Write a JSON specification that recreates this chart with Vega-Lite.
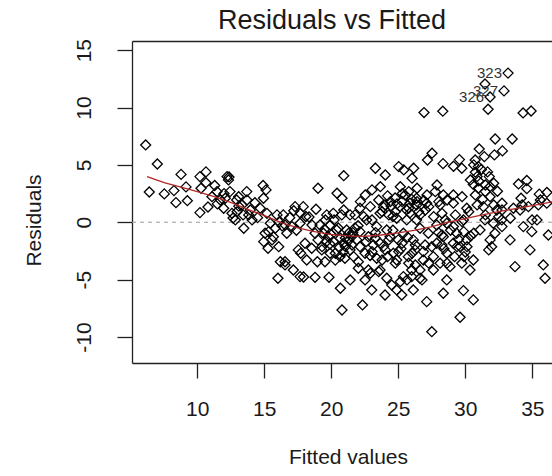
{
  "$schema": "https://vega.github.io/schema/vega-lite/v6.json",
  "width": 420,
  "height": 322,
  "autosize": {"type": "none"},
  "padding": {"left": 132, "top": 41, "right": 0, "bottom": 113},
  "background": "white",
  "config": {"view": {"stroke": null}, "font": "Liberation Sans"},
  "title": {"text": "Residuals vs Fitted", "fontSize": 27, "fontWeight": "normal", "font": "Liberation Sans", "color": "#1a1a1a", "anchor": "middle", "frame": "group", "dx": -10, "offset": 3},
  "datasets": {
    "pts": [
      {"x":6.15,"y":6.74},{"x":7.02,"y":5.08},{"x":6.42,"y":2.64},{"x":7.54,"y":2.47},{"x":8.26,"y":2.76},{"x":8.79,"y":4.17},{"x":8.41,"y":1.71},{"x":9.26,"y":1.88},{"x":9.16,"y":3.08},{"x":10.2,"y":3.98},
      {"x":10.65,"y":4.39},{"x":10.65,"y":3.45},{"x":10.28,"y":2.96},{"x":12.22,"y":3.98},{"x":12.33,"y":3.69},{"x":11.47,"y":2.67},{"x":10.2,"y":0.84},{"x":10.8,"y":1.33},{"x":12.44,"y":2.67},{"x":13.69,"y":2.67},
      {"x":14.91,"y":3.21},{"x":15.13,"y":2.82},{"x":14.94,"y":2.09},{"x":11.1,"y":2.23},{"x":11.72,"y":1.94},{"x":12.09,"y":2.09},{"x":13.09,"y":2.23},{"x":11.97,"y":1.22},{"x":12.97,"y":0.92},{"x":12.59,"y":0.78},
      {"x":12.84,"y":0.2},{"x":13.47,"y":-0.52},{"x":13.71,"y":1.94},{"x":13.34,"y":1.51},{"x":13.96,"y":1.07},{"x":14.09,"y":0.2},{"x":13.84,"y":0.64},{"x":14.7,"y":1.22},{"x":15.2,"y":0.78},{"x":15.45,"y":-0.09},
      {"x":15.82,"y":-0.52},{"x":15.33,"y":-0.82},{"x":15.58,"y":-1.54},{"x":14.96,"y":-1.69},{"x":15.28,"y":-2.27},{"x":16.08,"y":-2.13},{"x":16.2,"y":-3.44},{"x":16.02,"y":-4.88},{"x":12.67,"y":0.37},{"x":13.42,"y":0.64},
      {"x":15.68,"y":-1.26},{"x":15.06,"y":-0.96},{"x":16.55,"y":-3.72},{"x":17.17,"y":-4.16},{"x":17.54,"y":-2.41},{"x":17.67,"y":-4.74},{"x":12.94,"y":1.94},{"x":12.37,"y":3.95},{"x":16.1,"y":0.03},{"x":16.33,"y":-0.32},
      {"x":15.95,"y":0.64},{"x":16.42,"y":0.64},{"x":16.55,"y":-0.24},{"x":16.68,"y":-0.96},{"x":17.3,"y":1.36},{"x":17.91,"y":1.36},{"x":18.86,"y":1.13},{"x":17.67,"y":-0.09},{"x":18.04,"y":-1.83},{"x":17.72,"y":-2.7},
      {"x":18.17,"y":-3.29},{"x":16.55,"y":-3.44},{"x":18.96,"y":-3.44},{"x":17.93,"y":-4.77},{"x":18.79,"y":-4.8},{"x":19.83,"y":-4.8},{"x":20.68,"y":-5.75},{"x":21.41,"y":-5.03},{"x":20.8,"y":-7.65},{"x":22.33,"y":-7.21},
      {"x":20.15,"y":0.78},{"x":20.78,"y":0.64},{"x":21.4,"y":0.64},{"x":19.91,"y":-0.24},{"x":20.41,"y":-0.67},{"x":21.15,"y":-0.67},{"x":19.78,"y":-1.26},{"x":20.15,"y":-1.69},{"x":20.9,"y":-1.83},{"x":21.4,"y":-2.41},
      {"x":20.65,"y":-3.0},{"x":21.02,"y":-3.14},{"x":19.53,"y":-3.44},{"x":19.91,"y":-2.7},{"x":19.29,"y":-2.41},{"x":18.54,"y":-2.27},{"x":18.79,"y":-0.96},{"x":19.16,"y":-0.24},{"x":19.41,"y":-0.96},{"x":19.66,"y":0.64},
      {"x":20.68,"y":-1.39},{"x":21.3,"y":-0.96},{"x":19.31,"y":-2.13},{"x":21.05,"y":-2.13},{"x":20.3,"y":-2.7},{"x":21.67,"y":-3.0},{"x":17.07,"y":-0.38},{"x":18.56,"y":-0.24},{"x":20.93,"y":4.06},{"x":19.01,"y":2.96},
      {"x":20.43,"y":2.53},{"x":20.8,"y":2.09},{"x":20.93,"y":1.07},{"x":17.69,"y":0.78},{"x":19.56,"y":0.2},{"x":18.34,"y":0.46},{"x":23.29,"y":4.71},{"x":24.03,"y":4.12},{"x":25.03,"y":4.85},{"x":25.41,"y":4.56},
      {"x":26.15,"y":4.71},{"x":26.03,"y":3.84},{"x":25.15,"y":3.1},{"x":25.78,"y":2.67},{"x":26.4,"y":2.96},{"x":23.66,"y":3.1},{"x":23.04,"y":2.82},{"x":22.54,"y":2.38},{"x":22.17,"y":1.8},{"x":22.91,"y":1.36},
      {"x":23.54,"y":1.94},{"x":24.41,"y":1.8},{"x":25.28,"y":1.8},{"x":25.78,"y":1.22},{"x":26.4,"y":1.8},{"x":26.52,"y":0.92},{"x":24.78,"y":0.92},{"x":24.29,"y":0.64},{"x":23.79,"y":0.92},{"x":23.04,"y":0.2},
      {"x":22.42,"y":0.49},{"x":25.13,"y":1.36},{"x":24.46,"y":1.42},{"x":21.77,"y":0.64},{"x":22.14,"y":1.22},{"x":22.64,"y":0.2},{"x":23.39,"y":-0.38},{"x":24.14,"y":-0.67},{"x":22.14,"y":-0.82},{"x":22.77,"y":-1.26},
      {"x":23.14,"y":-1.98},{"x":21.9,"y":-1.54},{"x":21.52,"y":-1.26},{"x":23.64,"y":0.78},{"x":25.87,"y":1.66},{"x":26.37,"y":1.51},{"x":27.12,"y":1.66},{"x":28.12,"y":1.51},{"x":29.11,"y":1.66},{"x":30.11,"y":1.22},
      {"x":31.35,"y":1.36},{"x":32.35,"y":1.07},{"x":33.59,"y":1.22},{"x":34.09,"y":1.07},{"x":34.71,"y":1.36},{"x":35.45,"y":1.51},{"x":36.08,"y":1.66},{"x":31.47,"y":0.2},{"x":32.09,"y":-0.09},{"x":32.72,"y":0.2},
      {"x":31.1,"y":-0.67},{"x":32.22,"y":-0.96},{"x":31.85,"y":-1.54},{"x":31.97,"y":-2.13},{"x":33.34,"y":-1.54},{"x":33.71,"y":-3.87},{"x":34.33,"y":-0.38},{"x":34.83,"y":-2.41},{"x":34.96,"y":-0.82},{"x":35.82,"y":-3.72},
      {"x":35.95,"y":-4.88},{"x":36.2,"y":-1.11},{"x":29.86,"y":0.2},{"x":29.11,"y":-0.38},{"x":28.62,"y":-0.09},{"x":27.87,"y":-0.24},{"x":28.36,"y":-1.26},{"x":29.36,"y":-0.96},{"x":30.11,"y":-1.54},{"x":29.11,"y":-1.83},
      {"x":29.61,"y":-2.13},{"x":28.62,"y":-2.7},{"x":28.12,"y":-3.57},{"x":29.74,"y":-3.57},{"x":30.35,"y":-4.16},{"x":30.6,"y":-3.29},{"x":27.87,"y":-1.83},{"x":27.5,"y":-2.13},{"x":27.62,"y":-3.0},{"x":26.87,"y":-2.56},
      {"x":26.25,"y":-2.41},{"x":26.12,"y":-1.54},{"x":25.38,"y":-0.96},{"x":25.0,"y":-1.54},{"x":24.38,"y":-1.26},{"x":24.88,"y":-3.29},{"x":24.63,"y":-2.7},{"x":23.39,"y":-3.14},{"x":23.64,"y":-1.83},{"x":25.75,"y":-3.0},
      {"x":26.0,"y":-4.16},{"x":26.62,"y":-4.88},{"x":26.0,"y":-4.74},{"x":25.38,"y":-4.74},{"x":26.12,"y":-5.9},{"x":25.26,"y":-6.34},{"x":24.88,"y":-5.9},{"x":24.51,"y":-5.47},{"x":24.01,"y":-6.34},{"x":24.14,"y":-4.88},
      {"x":23.64,"y":-4.16},{"x":23.02,"y":-5.9},{"x":22.52,"y":-5.03},{"x":22.77,"y":-4.16},{"x":22.02,"y":-4.01},{"x":22.02,"y":-3.44},{"x":22.52,"y":-2.7},{"x":22.14,"y":-2.13},{"x":27.12,"y":-6.92},{"x":27.5,"y":-9.54},
      {"x":28.36,"y":-6.19},{"x":29.61,"y":-8.28},{"x":29.86,"y":-5.96},{"x":30.6,"y":-6.77},{"x":27.62,"y":-4.16},{"x":28.86,"y":-3.87},{"x":28.62,"y":-5.03},{"x":26.87,"y":-3.29},{"x":26.62,"y":-4.16},{"x":27.24,"y":-0.96},
      {"x":26.62,"y":-0.52},{"x":26.37,"y":0.2},{"x":25.63,"y":0.2},{"x":24.88,"y":0.35},{"x":28.26,"y":-1.11},{"x":29.88,"y":-0.82},{"x":30.63,"y":-0.96},{"x":28.26,"y":-1.98},{"x":28.64,"y":-3.57},{"x":27.27,"y":-3.57},
      {"x":29.38,"y":-2.13},{"x":30.13,"y":-2.13},{"x":31.75,"y":-2.41},{"x":32.74,"y":-0.38},{"x":26.77,"y":-5.03},{"x":25.65,"y":-5.03},{"x":25.15,"y":-5.18},{"x":22.91,"y":-4.45},{"x":23.54,"y":-4.31},{"x":26.27,"y":-3.72},
      {"x":25.78,"y":-3.57},{"x":24.78,"y":-3.57},{"x":23.79,"y":-3.29},{"x":23.04,"y":-2.56},{"x":24.03,"y":-2.41},{"x":25.03,"y":-2.56},{"x":26.03,"y":-2.7},{"x":23.29,"y":-1.39},{"x":24.29,"y":-1.54},{"x":25.28,"y":-1.83},
      {"x":26.27,"y":-1.98},{"x":26.92,"y":9.56},{"x":28.32,"y":9.68},{"x":31.7,"y":9.85},{"x":34.31,"y":9.53},{"x":34.91,"y":9.7},{"x":32.23,"y":7.26},{"x":33.5,"y":7.26},{"x":31.04,"y":6.39},{"x":27.52,"y":6.02},
      {"x":27.18,"y":5.43},{"x":28.34,"y":5.11},{"x":29.56,"y":5.46},{"x":29.12,"y":4.88},{"x":29.74,"y":4.71},{"x":30.74,"y":5.43},{"x":31.42,"y":5.72},{"x":32.17,"y":5.87},{"x":32.77,"y":6.22},{"x":30.63,"y":5.0},
      {"x":30.97,"y":4.85},{"x":31.66,"y":4.39},{"x":31.79,"y":3.98},{"x":30.75,"y":4.36},{"x":30.38,"y":3.69},{"x":30.88,"y":3.98},{"x":31.5,"y":3.25},{"x":32.12,"y":3.4},{"x":31.5,"y":2.67},{"x":30.75,"y":2.38},
      {"x":33.97,"y":3.34},{"x":34.59,"y":3.64},{"x":34.59,"y":2.93},{"x":34.16,"y":2.09},{"x":35.52,"y":2.45},{"x":36.09,"y":2.6},{"x":35.6,"y":1.94},{"x":27.89,"y":3.25},{"x":27.76,"y":2.67},{"x":27.14,"y":2.38},
      {"x":28.64,"y":1.94},{"x":29.76,"y":2.23},{"x":28.02,"y":1.8},{"x":27.27,"y":1.36},{"x":30.88,"y":1.51},{"x":32.12,"y":1.51},{"x":32.74,"y":1.66},{"x":32.74,"y":1.07},{"x":34.24,"y":1.51},{"x":31.5,"y":0.64},
      {"x":30.26,"y":0.92},{"x":29.26,"y":0.64},{"x":28.26,"y":0.78},{"x":28.51,"y":0.2},{"x":27.64,"y":0.49},{"x":27.02,"y":1.07},{"x":29.76,"y":0.05},{"x":32.5,"y":0.49},{"x":33.36,"y":0.35},{"x":34.98,"y":0.2},
      {"x":35.35,"y":0.2},{"x":31.85,"y":2.23},{"x":26.37,"y":2.09},{"x":28.36,"y":2.38},{"x":29.11,"y":2.38},{"x":31.85,"y":3.1},{"x":30.97,"y":2.96},{"x":20.52,"y":-0.5},{"x":21.05,"y":-1.37},{"x":19.61,"y":-1.72},
      {"x":21.55,"y":-1.98},{"x":21.77,"y":-0.5},{"x":20.21,"y":0.2},{"x":19.01,"y":-1.54},{"x":24.01,"y":1.51},{"x":24.76,"y":2.12},{"x":25.5,"y":2.38},{"x":26.62,"y":0.64},{"x":25.87,"y":0.81},{"x":27.0,"y":-1.98},
      {"x":24.2,"y":2.3},{"x":24.9,"y":1.6},{"x":25.6,"y":1.1},{"x":26.0,"y":2.0},{"x":23.9,"y":1.3},{"x":25.3,"y":2.5},{"x":24.6,"y":0.5},{"x":26.9,"y":1.9},
      {"x":28.9,"y":-0.7},{"x":29.5,"y":-1.5},{"x":30.0,"y":-2.6},{"x":28.4,"y":-2.3},{"x":29.2,"y":-3.0},{"x":30.4,"y":-1.2},{"x":28.0,"y":-0.9},{"x":29.9,"y":-3.0},
      {"x":19.5,"y":-0.6},{"x":20.0,"y":-1.1},{"x":20.6,"y":-2.2},{"x":21.3,"y":-1.6},{"x":20.3,"y":-3.3},{"x":19.9,"y":-1.9},{"x":21.6,"y":-0.9},{"x":20.9,"y":-2.6},
      {"x":22.0,"y":-0.3},{"x":22.6,"y":-1.7},{"x":23.3,"y":-0.9},{"x":23.9,"y":-2.1},{"x":24.6,"y":-0.7},{"x":25.2,"y":-2.3},{"x":25.7,"y":-1.3},{"x":22.9,"y":-2.9},{"x":24.2,"y":-3.0},
      {"x":30.6,"y":3.3},{"x":31.2,"y":4.6},{"x":31.3,"y":2.0},{"x":32.4,"y":2.7},{"x":31.0,"y":3.6},
      {"x":16.9,"y":0.4},{"x":17.4,"y":-0.7},{"x":18.1,"y":0.5},{"x":17.2,"y":1.0},
      {"x":11.5,"y":1.6},{"x":12.0,"y":2.5},{"x":13.1,"y":1.4},{"x":14.3,"y":1.7},{"x":14.5,"y":0.4},{"x":11.3,"y":3.2},
      {"x":31.47,"y":12.05},{"x":33.19,"y":13.0},{"x":32.89,"y":11.45},{"x":31.85,"y":10.92}
    ],
    "lo": [
      {"x":6.25,"y":3.98},{"x":7.59,"y":3.43},{"x":8.86,"y":3.03},{"x":10.2,"y":2.6},{"x":11.32,"y":2.21},{"x":12.59,"y":1.68},{"x":13.86,"y":1.08},{"x":15.06,"y":0.55},{"x":16.32,"y":-0.06},{"x":17.52,"y":-0.5},
      {"x":18.64,"y":-0.8},{"x":19.91,"y":-1.06},{"x":21.17,"y":-1.19},{"x":22.44,"y":-1.24},{"x":23.71,"y":-1.11},{"x":24.98,"y":-0.93},{"x":26.18,"y":-0.71},{"x":27.44,"y":-0.41},{"x":28.64,"y":-0.02},{"x":29.91,"y":0.29},
      {"x":31.1,"y":0.59},{"x":32.37,"y":0.9},{"x":33.64,"y":1.16},{"x":34.91,"y":1.42},{"x":36.47,"y":1.77}
    ],
    "lab": [
      {"x":33.19,"y":13.0,"id":"323"},{"x":32.89,"y":11.45,"id":"327"},{"x":31.85,"y":10.92,"id":"326"}
    ],
    "zero": [{"y":0}]
  },
  "resolve": {"axis": {"x": "independent"}},
  "layer": [
    {
      "data": {"name": "zero"},
      "mark": {"type": "rule", "color": "#9a9a9a", "strokeDash": [4, 4], "strokeWidth": 1},
      "encoding": {
        "y": {"field": "y", "type": "quantitative", "scale": {"domain": [-12.27, 15.8], "nice": false, "zero": false},
          "axis": {"orient": "left", "values": [-10, -5, 0, 5, 10, 15], "labelExpr": "'' + datum.value", "grid": false, "tickSize": 15, "tickWidth": 1.3, "tickColor": "#222222", "domainColor": "#222222", "domainWidth": 1.3,
            "labelFontSize": 21, "labelFont": "Liberation Sans", "labelColor": "#1a1a1a", "labelAngle": -90, "labelAlign": "center", "labelBaseline": "alphabetic", "labelPadding": 27, "labelFlush": false, "labelOverlap": false,
            "title": "Residuals", "titleFontSize": 21, "titleFont": "Liberation Sans", "titleFontWeight": "normal", "titleColor": "#1a1a1a", "titleAngle": -90, "titleX": -92, "titleY": 179, "titleBaseline": "alphabetic", "titleAlign": "center"}}
      }
    },
    {
      "data": {"name": "pts"},
      "mark": {"type": "point", "shape": "diamond", "filled": false, "size": 100, "strokeWidth": 1.3, "color": "#000000", "opacity": 1, "clip": true},
      "encoding": {
        "x": {"field": "x", "type": "quantitative", "scale": {"domain": [5.13, 36.47], "nice": false, "zero": false},
          "axis": {"orient": "bottom", "values": [10, 15, 20, 25, 30, 35], "grid": false, "tickSize": 15, "tickWidth": 1.3, "tickColor": "#222222", "domainColor": "#222222", "domainWidth": 1.3,
            "labelFontSize": 21, "labelFont": "Liberation Sans", "labelColor": "#1a1a1a", "labelBaseline": "alphabetic", "labelPadding": 37, "labelFlush": false, "labelOverlap": false,
            "title": "Fitted values", "titleFontSize": 21, "titleFont": "Liberation Sans", "titleFontWeight": "normal", "titleColor": "#1a1a1a", "titleX": 216, "titleY": 100, "titleBaseline": "alphabetic", "titleAlign": "center"}},
        "y": {"field": "y", "type": "quantitative"}
      }
    },
    {
      "data": {"name": "lo"},
      "mark": {"type": "line", "color": "#b02828", "strokeWidth": 1.3, "clip": true},
      "encoding": {
        "x": {"field": "x", "type": "quantitative", "scale": {"domain": [5.13, 36.47], "nice": false, "zero": false},
          "axis": {"orient": "top", "labels": false, "ticks": false, "grid": false, "domain": true, "domainColor": "#222222", "domainWidth": 1.3, "title": null, "minExtent": 0, "maxExtent": 0, "offset": 0}},
        "y": {"field": "y", "type": "quantitative"}
      }
    },
    {
      "data": {"name": "lab"},
      "mark": {"type": "text", "align": "right", "baseline": "middle", "dx": -6, "fontSize": 15, "font": "Liberation Sans", "color": "#333333"},
      "encoding": {
        "x": {"field": "x", "type": "quantitative", "axis": null},
        "y": {"field": "y", "type": "quantitative"},
        "text": {"field": "id", "type": "nominal"}
      }
    }
  ]
}
